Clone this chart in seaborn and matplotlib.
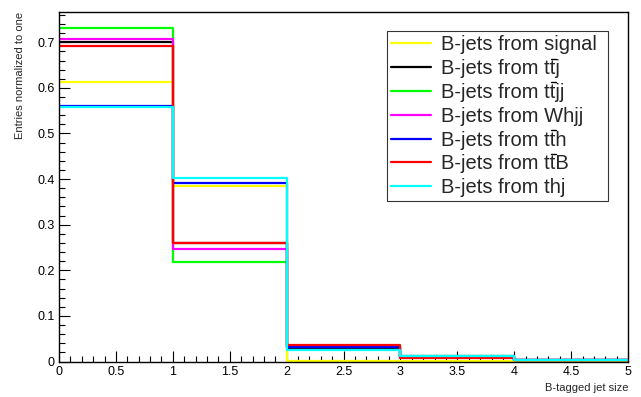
import numpy as np
import pandas as pd
import matplotlib
matplotlib.use("Agg")
import matplotlib.pyplot as plt
import seaborn as sns
from matplotlib.ticker import MultipleLocator, FuncFormatter
from matplotlib.lines import Line2D
from matplotlib.transforms import IdentityTransform

sns.set_style("white")
plt.rcParams['font.family'] = ['Liberation Sans', 'DejaVu Sans']

bin_edges = [0, 1, 2, 3, 4, 5]
labels = ["B-jets from signal", "B-jets from ttj", "B-jets from ttjj",
          "B-jets from Whjj", "B-jets from tth", "B-jets from ttB",
          "B-jets from thj"]
# labels whose second "t" carries an overbar (t-tbar)
bar_on_t = [False, True, True, False, True, True, False]
colors = ["#ffff00", "#000000", "#00ff00", "#ff00ff", "#0000ff", "#ff0000", "#00ffff"]

signal = [0.612, 0.384, 0.002, 0.001, 0.001]
ttj    = [0.700, 0.259, 0.029, 0.009, 0.003]
ttjj   = [0.731, 0.218, 0.035, 0.011, 0.003]
whjj   = [0.707, 0.246, 0.031, 0.011, 0.003]
tth    = [0.560, 0.392, 0.031, 0.010, 0.003]
ttb    = [0.692, 0.259, 0.036, 0.008, 0.003]
thj    = [0.557, 0.403, 0.025, 0.012, 0.003]
series = [signal, ttj, ttjj, whjj, tth, ttb, thj]

centers = [0.5, 1.5, 2.5, 3.5, 4.5]

fig = plt.figure(figsize=(6.41, 3.97), dpi=100)
ax = fig.add_axes([0.092, 0.0894, 0.888, 0.8811])

for vals, lab, col in zip(series, labels, colors):
    df = pd.DataFrame({"x": centers, "w": vals})
    sns.histplot(data=df, x="x", weights="w", bins=bin_edges, element="step",
                 fill=False, color=col, linewidth=1.6, label=lab, ax=ax)

ax.set_xlim(0, 5)
ax.set_ylim(0, 0.767)
ax.xaxis.set_major_locator(MultipleLocator(0.5))
ax.xaxis.set_minor_locator(MultipleLocator(0.1))
ax.yaxis.set_major_locator(MultipleLocator(0.1))
ax.yaxis.set_minor_locator(MultipleLocator(0.02))
fmt = FuncFormatter(lambda v, p: f"{v:g}")
ax.xaxis.set_major_formatter(fmt)
ax.yaxis.set_major_formatter(fmt)
ax.tick_params(which="both", direction="in", top=False, right=False,
               bottom=True, left=True, labelsize=9, colors="black")
ax.tick_params(which="major", length=8, width=0.8, pad=3)
ax.tick_params(which="minor", length=4, width=0.8)
for s in ax.spines.values():
    s.set_visible(True)
    s.set_color("black")
    s.set_linewidth(1.0)

ax.set_ylabel("Entries normalized to one", fontsize=8, loc="top", labelpad=9)
ax.set_xlabel("B-tagged jet size", fontsize=8, loc="right", labelpad=4)

handles = [Line2D([0], [0], color=c, lw=1.6) for c in colors]
leg = ax.legend(handles, labels, loc="upper left",
                bbox_to_anchor=(0.5765, 0.5, 0.3884, 0.444), mode="expand",
                fontsize=14.5, frameon=True, fancybox=False, edgecolor="black",
                handlelength=2.0, handletextpad=0.5, labelspacing=0.24,
                borderpad=0.2, borderaxespad=0)
leg.get_frame().set_linewidth(0.8)

# overbar on the anti-top "t" in the legend labels
fig.canvas.draw()
renderer = fig.canvas.get_renderer()
for txt, has_bar in zip(leg.get_texts(), bar_on_t):
    if not has_bar:
        continue
    bb = txt.get_window_extent(renderer)
    prop = txt.get_fontproperties()
    w1, _, _ = renderer.get_text_width_height_descent("B-jets from t", prop, ismath=False)
    w2, _, _ = renderer.get_text_width_height_descent("B-jets from tt", prop, ismath=False)
    y = bb.y1 + 0.5
    fig.add_artist(Line2D([bb.x0 + w1 + 0.5, bb.x0 + w2], [y, y],
                          transform=IdentityTransform(), color="black", lw=1.0))

fig.savefig("out.png", dpi=100)
